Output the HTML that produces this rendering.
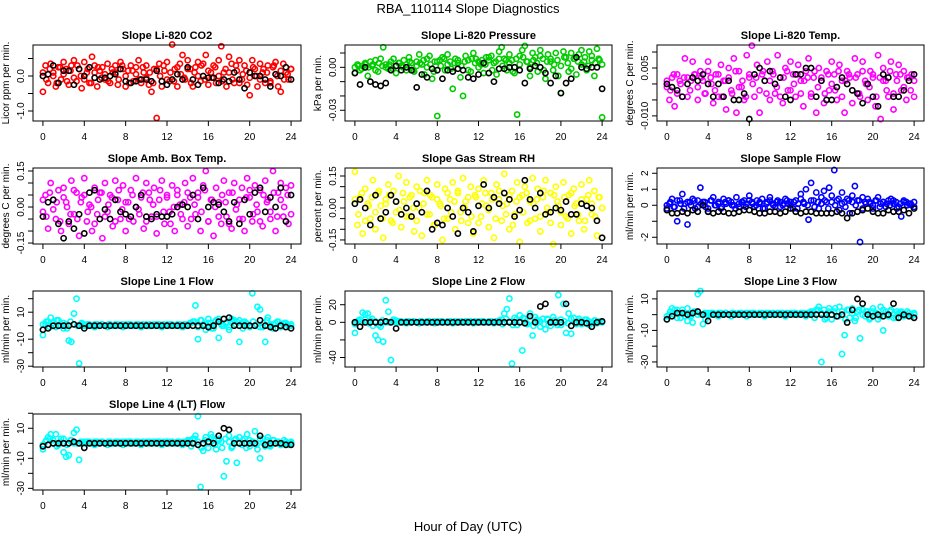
<!DOCTYPE html>
<html><head><meta charset="utf-8"><style>
html,body{margin:0;padding:0;background:#fff;}
svg{display:block;font-family:"Liberation Sans",sans-serif;}
</style></head><body>
<svg id="chart" width="936" height="540" viewBox="0 0 936 540">
<text x="468" y="13" text-anchor="middle" font-size="13">RBA_110114  Slope Diagnostics</text>
<text x="468" y="531" text-anchor="middle" font-size="13">Hour of Day (UTC)</text>
</svg>
<script>
const xTicks = [0,4,8,12,16,20,24];
const titles = ["Slope Li-820 CO2","Slope Li-820 Pressure","Slope Li-820 Temp.","Slope Amb. Box Temp.","Slope Gas Stream RH","Slope Sample Flow","Slope Line 1 Flow","Slope Line 2 Flow","Slope Line 3 Flow","Slope Line 4 (LT) Flow"];
const yTitles = ["Licor ppm per min.","kPa per min.","degrees C per min.","degrees C per min.","percent per min.","ml/min per min.","ml/min per min.","ml/min per min.","ml/min per min.","ml/min per min."];
const yTickVals = [[0.5,0,-0.5,-1],[0.01,0,-0.01,-0.02,-0.03],[0.01,0.005,0,-0.005,-0.01],[0.15,0.1,0.05,0,-0.05,-0.1,-0.15],[0.15,0.1,0.05,0,-0.05,-0.1,-0.15],[2,1,0,-1,-2],[20,10,0,-10,-20,-30],[20,0,-20,-40],[10,0,-10,-20,-30],[20,10,0,-10,-20,-30]];
const yTickLabels = [[null,"0.0",null,"-1.0"],[null,"0.00",null,null,"-0.03"],[null,"0.005",null,null,"-0.010"],["0.15",null,null,"0.00",null,null,"-0.15"],["0.15",null,null,"0.00",null,null,"-0.15"],["2","1","0",null,"-2"],[null,"10",null,"-10",null,"-30"],["20","0",null,"-40"],["10",null,"-10",null,"-30"],[null,"10",null,"-10",null,"-30"]];
const yRanges = [[-1.286,0.886],[-0.0375,0.0156],[-0.0116,0.0122],[-0.154,0.1625],[-0.169,0.1875],[-2.42,2.33],[-30.6,25.7],[-50.8,35.6],[-33.2,15],[-31.1,19.5]];
const colors = ["#ff0000","#00cc00","#ff00ff","#ff00ff","#ffff00","#0000ff","#00ffff","#00ffff","#00ffff","#00ffff"];

const co2Main = [-0.45,0.3,-0.2,0.35,0.1,-0.3,0.25,-0.1,0.4,0.2,-0.25,0.3,0.45,-0.15,0.2,-0.35,0.4,0.1,-0.2,0.55,0.3,-0.3,0.15,0.25,-0.1,0.35,-0.2,0.1,0.3,-0.25,0.4,0.2,-0.3,0.15,0.3,-0.15,0.25,0.45,-0.2,0.1,0.3,-0.25,-0.45,0.2,-1.2,0.35,-0.3,0.15,0.4,-0.15,0.9,0.2,-0.3,0.35,0.6,-0.1,0.45,0.2,-0.3,0.25,0.4,-0.15,0.35,0.6,-0.25,0.1,0.3,-0.2,0.45,0.85,0.1,-0.3,0.55,0.35,-0.2,0.15,0.45,-0.1,0.3,-0.25,-0.55,0.45,0.2,-0.3,0.35,0.1,-0.2,0.3,-0.15,0.25,0.4,-0.3,-0.45,0.35,0.1,-0.1,0.2];
const co2Band = [0.1,-0.1,0.2,0.0,-0.2,0.25,0.05,-0.15,0.15,-0.05,0.3,0.0,-0.1,0.2,-0.2,0.1,0.25,-0.05,0.05,-0.15,0.2,0.1,-0.1,0.3,0.0,-0.2,0.15,0.05,-0.1,0.25,-0.05,0.1,-0.2,0.2,0.0,0.3,-0.1,0.1,-0.15,0.25,0.05,-0.05,0.2,-0.2,0.1,0.0,0.3,-0.1,0.15,-0.05,0.25,0.0,-0.15,0.2,0.1,-0.1,0.3,-0.2,0.05,0.15,-0.05,0.25,0.0,-0.1,0.2,0.1,-0.2,0.3,0.0,0.15,-0.1,0.05,0.2];
const co2Ref = [0.0,0.05,0.3,-0.2,0.15,0.15,-0.25,0.2,0.0,0.25,-0.05,-0.1,-0.05,0.0,0.05,0.2,-0.15,-0.2,-0.15,-0.1,-0.1,-0.15,0.15,-0.15,-0.25,-0.1,0.05,-0.1,0.25,-0.1,-0.25,0.0,-0.05,-0.05,-0.2,-0.1,-0.15,0.1,-0.1,-0.35,0.1,0.0,0.0,-0.1,-0.3,0.05,0.0,0.25,-0.1];
const presMain = [-0.004,0.002,-0.002,0.001,0.003,-0.006,0.004,0.002,0.005,-0.003,0.006,0.014,0.002,-0.001,0.004,0.006,-0.004,0.003,0.001,0.005,-0.002,0.007,0.003,-0.003,0.004,0.009,0.002,-0.005,0.006,0.008,-0.008,0.004,-0.034,0.005,0.007,-0.002,0.009,0.004,-0.015,0.006,0.003,-0.007,-0.02,0.008,0.005,-0.003,0.01,0.006,0.004,0.002,-0.004,0.007,0.005,0.008,0.003,-0.005,0.011,0.014,0.006,-0.002,0.009,0.005,-0.004,-0.033,0.008,0.012,0.015,0.004,-0.006,0.01,0.007,-0.003,0.012,0.006,-0.008,0.009,0.004,-0.002,0.01,-0.006,-0.018,0.011,0.007,-0.003,0.01,0.006,-0.005,0.009,0.012,0.004,-0.002,0.011,0.008,-0.006,0.013,0.005,-0.035];
const presBand = [0,0.001,-0.001,0.002,0,0.001,-0.002,0.003,0.001,0,0.002,-0.001,0.001,0.003,0,0.002,0.004,-0.002,0.001,0.003,0.005,0,0.002,-0.003,0.004,0.001,0.006,0.002,-0.001,0.003,0.005,0.001,0.004,-0.002,0.006,0.003,0,0.005,0.002,0.007,-0.002,0.004,0.006,0.001,0.005,0.003,-0.003,0.006,0.002,0.007,0.004,0,0.005,0.003,0.008,-0.002,0.004,0.006,0.002,0.005,0.001,0.007,0.003,-0.001,0.006,0.004,0.002,0.007,0.001,0.005,0.003,0.006,0.002];
const presRef = [-0.004,-0.012,0,-0.01,-0.012,-0.013,-0.011,-0.002,0.001,-0.002,0,-0.002,-0.014,-0.005,-0.007,-0.001,-0.002,-0.008,-0.002,-0.003,-0.001,-0.002,-0.007,-0.008,-0.005,0.003,-0.004,-0.01,-0.001,-0.001,0,0,-0.002,-0.011,-0.001,0.001,0,-0.004,-0.011,-0.006,-0.018,-0.011,-0.008,0.007,0,-0.001,0,0,-0.015];
const tempMain = [-0.001,-0.005,0.002,-0.007,0.003,0.001,-0.004,0.008,0.002,-0.002,0.007,0.003,-0.005,0.004,0.001,-0.003,0.007,0.002,-0.006,0.003,-0.004,0.006,0.001,-0.008,0.005,-0.002,0.008,-0.009,0.004,-0.001,-0.005,0.009,0.002,0.012,-0.004,0.006,-0.009,0.003,0.001,0.007,-0.005,0.004,-0.003,0.009,0.002,-0.006,0.005,-0.002,0.007,0.003,-0.004,0.006,0.001,-0.007,0.004,0.008,-0.003,0.002,-0.009,0.005,0.001,-0.006,0.004,-0.002,0.007,0.003,-0.005,0.006,0.001,-0.009,0.004,0.002,-0.006,0.008,0.003,-0.004,0.007,0.001,-0.005,0.004,0.002,-0.007,0.009,-0.011,0.005,0.001,-0.004,0.007,-0.008,0.003,0.006,-0.002,0.004,-0.005,0.002,0.003,-0.004];
const tempBand = [0.001,-0.002,0.003,-0.003,0,0.002,-0.004,0.001,0.003,-0.001,0.002,-0.003,0.004,0,-0.002,0.003,-0.004,0.001,0.002,-0.003,0.004,-0.001,0.001,-0.004,0.003,0,0.002,-0.002,0.004,-0.003,0.001,0.003,-0.001,-0.004,0.002,0.004,-0.002,0,0.003,-0.003,0.001,0.002,-0.004,0.004,-0.001,0.002,-0.003,0.003,0,-0.002,0.004,-0.004,0.001,0.003,-0.002,0.002,-0.003,0.004,0,-0.001,0.003,-0.004,0.002,0.001,-0.002,0.004,-0.003,0.001,0.003,-0.001,0.002,-0.002,0.001];
const tempRef = [0,-0.001,-0.002,-0.004,0,0.002,0.001,0.003,0,-0.004,0,-0.004,0.001,-0.005,-0.005,-0.003,-0.011,0.003,0.005,0.001,0.004,0,0.002,-0.004,-0.005,0.003,0.003,0.005,0.005,-0.004,0.001,-0.005,-0.005,-0.001,0.002,0,-0.002,-0.003,-0.006,0,-0.004,-0.007,0.003,0.002,-0.004,-0.004,-0.002,0.001,0.003];
const ambMain = [-0.02,0.05,-0.09,0.1,0.03,-0.05,0.07,-0.1,0.08,0.02,-0.07,0.11,-0.03,0.06,-0.12,0.04,0.12,-0.06,0.01,-0.1,0.08,-0.03,0.06,-0.13,0.1,-0.02,0.05,-0.08,0.11,0.03,-0.05,0.09,-0.1,0.02,0.07,-0.06,0.12,-0.01,0.04,-0.09,0.1,0.06,-0.04,0.08,-0.11,0.03,0.11,-0.07,0.05,-0.02,0.09,-0.1,0.07,0.01,-0.05,0.1,-0.08,0.04,0.12,-0.03,0.06,-0.1,0.09,0.15,-0.06,0.03,-0.12,0.08,0.02,-0.07,0.11,-0.04,0.06,-0.09,0.1,0.01,-0.05,0.08,-0.1,0.12,0.04,-0.06,0.09,-0.02,0.07,-0.08,0.11,0.03,-0.05,0.15,-0.1,0.06,0.1,-0.04,0.08,-0.07,0.09];
const ambBand = [0.03,-0.04,0.06,-0.01,0.02,-0.06,0.04,0.0,-0.03,0.07,-0.05,0.02,0.05,-0.02,0.0,-0.07,0.03,0.06,-0.04,0.01,0.04,-0.06,0.07,-0.01,0.02,-0.05,0.05,0.0,-0.03,0.06,-0.06,0.03,0.01,-0.04,0.07,-0.02,0.04,-0.07,0.0,0.05,-0.03,0.02,0.06,-0.05,0.01,0.04,-0.02,0.07,-0.06,0.03,0.0,-0.04,0.05,0.02,-0.07,0.06,-0.01,0.03,-0.05,0.04,0.07,-0.03,0.01,-0.06,0.05,0.02,-0.02,0.06,-0.04,0.03,0.0,0.05,-0.03];
const ambRef = [-0.04,0.02,0.03,-0.07,-0.13,-0.06,-0.09,-0.03,-0.11,0.06,0.07,-0.05,-0.01,-0.05,0.03,-0.02,-0.03,-0.04,0.0,0.05,-0.04,-0.05,-0.03,-0.04,-0.04,-0.03,0.0,0.01,0.0,0.05,-0.05,0.08,0.0,0.02,0.01,-0.02,-0.06,0.02,-0.07,0.03,-0.03,0.06,0.08,-0.02,0.04,0.0,0.08,-0.06,0.05];
const rhMain = [0.17,-0.08,0.05,-0.12,0.09,0.02,-0.05,0.13,-0.1,0.07,0.01,-0.14,0.04,0.11,-0.06,0.08,-0.02,0.15,-0.09,0.03,0.12,-0.04,0.06,-0.11,0.1,0.0,-0.13,0.07,0.13,-0.03,0.05,-0.08,0.11,0.02,-0.15,0.09,-0.05,0.04,0.12,-0.1,0.07,-0.02,0.14,0.03,-0.07,0.1,-0.12,0.05,0.09,-0.04,0.13,0.01,-0.09,0.07,-0.14,0.11,0.04,-0.06,0.16,0.02,-0.1,0.08,-0.03,0.12,-0.16,0.06,0.1,-0.07,0.03,0.14,-0.05,0.09,-0.11,0.05,0.13,-0.02,0.07,-0.17,0.1,0.01,-0.08,0.12,-0.04,0.06,-0.12,0.09,0.02,-0.06,0.11,-0.1,0.04,0.13,-0.03,0.08,-0.13,0.05,0.0];
const rhBand = [0.04,-0.03,0.07,-0.06,0.01,0.05,-0.02,0.08,-0.05,0.02,0.06,-0.07,0.03,-0.01,0.07,-0.04,0.05,0.0,-0.06,0.08,0.02,-0.03,0.06,-0.08,0.04,0.01,-0.05,0.07,-0.02,0.03,0.08,-0.06,0.0,0.05,-0.04,0.06,-0.07,0.02,0.07,-0.01,0.04,-0.05,0.08,0.01,-0.03,0.06,-0.08,0.03,0.05,-0.02,0.07,-0.06,0.02,0.04,-0.04,0.08,0.0,-0.07,0.06,0.03,-0.02,0.05,-0.05,0.07,0.01,-0.03,0.04,-0.06,0.06,0.02,-0.04,0.05,0.0];
const rhRef = [0.02,0.04,0.0,-0.08,0.06,-0.05,-0.02,0.06,0.03,-0.03,0.0,-0.04,0.02,-0.02,0.08,-0.1,-0.07,-0.08,0.0,-0.04,-0.12,0.0,-0.02,-0.11,0.01,0.11,0.0,0.05,0.02,0.07,0.04,-0.04,-0.01,0.13,0.04,0.0,0.07,-0.03,-0.02,0.0,-0.01,0.03,-0.03,-0.03,0.02,0.01,0.0,-0.06,-0.14];
const sampMain = [-0.2,0.1,0.4,-0.1,-1.0,0.3,0.7,0.1,-1.2,0.2,0.4,-0.2,0.3,1.1,0.2,-0.1,-0.4,0.3,0.5,0.0,0.2,-0.2,0.4,0.1,0.3,0.2,0.0,0.5,-0.1,0.2,0.3,0.1,0.6,0.2,-0.1,0.3,0.1,0.4,-0.2,0.2,0.5,0.1,-0.1,0.3,0.2,0.0,0.4,0.1,0.2,-0.2,0.3,0.1,0.7,0.2,1.0,-0.9,1.4,0.3,0.8,-0.2,0.5,0.9,0.2,1.1,0.6,2.2,0.3,-0.3,0.8,0.2,0.4,-0.5,0.6,1.2,0.3,-2.3,0.5,0.2,0.4,0.1,-0.2,0.3,0.5,0.1,0.2,-0.1,0.3,0.4,0.1,0.2,-0.1,-0.7,0.3,0.2,0.1,0.0,0.2];
const sampBand = [0.0,0.2,-0.1,0.3,0.1,-0.2,0.2,0.0,0.3,-0.1,0.1,0.2,-0.2,0.3,0.0,0.1,-0.1,0.2,0.3,0.0,-0.2,0.1,0.2,-0.1,0.3,0.1,0.0,0.2,-0.2,0.1,0.3,0.0,0.2,-0.1,0.1,0.3,0.0,0.2,-0.2,0.4,0.1,0.0,0.3,-0.1,0.2,0.1,0.3,-0.2,0.2,0.0,0.4,0.1,-0.1,0.3,0.2,0.0,0.3,-0.2,0.1,0.2,0.0,0.3,-0.1,0.2,0.1,0.0,0.3,-0.2,0.1,0.2,0.0,0.1,-0.1];
const sampRef = [-0.3,-0.5,-0.5,-0.4,-0.5,-0.3,-0.4,0.0,-0.4,-0.5,-0.4,-0.4,-0.5,-0.5,-0.4,-0.3,-0.3,-0.4,-0.5,-0.5,-0.4,-0.4,-0.5,-0.4,-0.2,-0.4,-0.5,-0.4,-0.4,-0.5,-0.5,-0.5,-0.5,-0.4,-0.5,-0.8,-0.5,-0.4,-0.3,-0.2,-0.4,-0.5,-0.5,-0.3,-0.4,-0.4,-0.3,-0.5,-0.2];
const line1Main = [-7,1,3,6,2,-1,4,0,-2,1,-11,-12,9,20,-28,2,1,0,1,0,-1,1,0,1,0,-1,1,0,0,1,0,-1,1,0,1,0,0,1,-1,0,1,0,0,1,0,1,-1,0,1,0,1,0,0,1,-1,0,1,2,3,15,-10,4,1,-3,5,2,-2,4,-9,1,0,2,-3,5,4,3,-12,2,3,1,-1,24,0,14,12,-1,-12,6,1,-2,2,3,0,1,2,0,1];
const line1Band = [1,3,-1,2,4,0,2,-2,3,1,0,1,0,1,0,1,0,1,0,1,0,1,0,1,0,1,0,1,0,1,0,1,0,1,0,1,0,1,0,1,0,1,0,2,3,-1,4,1,2,-2,3,5,0,2,-1,3,1,4,-2,2,0,3,1,-1,2,4,0,1,3,-1,2,1,0];
const line1Ref = [-3,-2,0,0,0,0,1,0,-2,0,0,0,0,0,0,0,0,0,0,0,0,0,0,0,0,0,0,0,0,0,0,0,-1,0,3,5,6,0,0,0,0,0,4,0,-1,-2,0,-1,-2];
const line2Main = [-12,0,3,11,9,10,2,-4,-15,-20,-5,-22,25,12,-43,3,2,0,1,0,-1,1,0,1,0,-1,1,0,0,1,0,-1,1,0,1,0,0,1,-1,0,1,0,0,1,0,1,-1,0,1,0,1,0,0,1,-1,0,1,3,10,15,27,-47,5,-3,8,-32,4,-2,10,-15,6,2,-5,4,-8,3,-4,6,2,31,-3,21,-12,10,-13,5,-2,4,1,-1,3,-3,0,2,-1,1,0];
const line2Band = [-2,2,0,3,-1,4,1,-3,2,0,0,1,0,1,0,1,0,1,0,1,0,1,0,1,0,1,0,1,0,1,0,1,0,1,0,1,0,1,0,1,0,1,2,-2,4,1,-3,3,0,5,-1,2,-4,3,1,-2,4,0,2,-3,3,1,-1,4,0,2,-2,3,1,-1,2,0,1];
const line2Ref = [0,-5,0,0,0,0,1,0,-7,0,0,0,0,0,0,0,0,0,0,0,0,0,0,0,0,0,0,0,0,0,0,0,0,-1,7,0,18,21,0,0,0,21,-4,0,0,-1,-5,0,1];
const line3Main = [-3,0,4,3,-2,1,3,-1,-4,0,-5,2,13,15,-6,-3,1,0,1,0,-1,1,0,1,0,-1,1,0,0,1,0,-1,1,0,1,0,0,1,-1,0,1,0,0,1,0,1,-1,0,1,0,1,0,0,1,-1,0,1,2,3,5,-30,3,-2,4,-3,2,-1,5,-25,-13,3,-2,4,-4,2,-15,3,-1,2,-2,4,1,-3,5,-10,2,-1,3,0,-2,1,2,-1,0,1,-1,0];
const line3Band = [-1,2,0,3,-2,1,4,-1,2,0,0,1,0,1,0,1,0,1,0,1,0,1,0,1,0,1,0,1,0,1,0,1,0,1,0,1,0,1,0,1,0,1,2,-2,3,1,-3,2,0,4,-1,2,-3,3,1,-2,3,0,2,-3,2,1,-1,3,0,2,-2,2,1,-1,2,0,1];
const line3Ref = [-3,-1,1,1,0,1,2,0,-4,0,0,0,0,0,0,0,0,0,0,0,0,0,0,0,0,0,0,0,0,0,0,0,0,-1,0,-5,3,10,7,0,-1,0,-1,0,7,-2,0,-1,-2];
const line4Main = [-4,1,4,6,2,6,-1,3,-6,-9,-8,2,7,9,-11,0,1,0,1,0,-1,1,0,1,0,-1,1,0,0,1,0,-1,1,0,1,0,0,1,-1,0,1,0,0,1,0,1,-1,0,1,0,1,0,0,1,-1,0,1,2,3,5,18,-29,-5,4,-3,6,2,-4,3,1,-22,-12,5,-3,2,-13,4,-1,3,6,-2,1,8,-4,-10,3,-2,4,-1,2,0,1,-1,0,1,-1,0];
const line4Band = [-1,2,3,0,-2,1,3,-1,2,0,0,1,0,1,0,1,0,1,0,1,0,1,0,1,0,1,0,1,0,1,0,1,0,1,0,1,0,1,0,1,0,1,2,-2,3,1,-3,2,0,4,-1,2,-3,3,1,-2,3,0,2,-3,2,1,-1,3,0,2,-2,2,1,-1,2,0,1];
const line4Ref = [-2,-1,0,0,0,0,1,0,-3,0,0,0,0,0,0,0,0,0,0,0,0,0,0,0,0,0,0,0,0,0,-1,0,1,0,5,10,9,0,0,0,0,0,5,-1,0,0,0,-1,-1];

const mainSeries = [co2Main,presMain,tempMain,ambMain,rhMain,sampMain,line1Main,line2Main,line3Main,line4Main];
const bandSeries = [co2Band,presBand,tempBand,ambBand,rhBand,sampBand,line1Band,line2Band,line3Band,line4Band];
const refSeries = [co2Ref,presRef,tempRef,ambRef,rhRef,sampRef,line1Ref,line2Ref,line3Ref,line4Ref];

const NS = "http://www.w3.org/2000/svg";
const svg = document.getElementById("chart");
const colBox = [[33,301],[345,612],[657,924]];
const rowTop = [45,168,291,414];
const boxH = 76;
function mk(tag, attrs, parent){
  const e = document.createElementNS(NS, tag);
  for (const k in attrs) e.setAttribute(k, attrs[k]);
  parent.appendChild(e);
  return e;
}

for (let p = 0; p < titles.length; p++) {
  const col = p % 3, row = Math.floor(p / 3);
  const L = colBox[col][0], R = colBox[col][1], T = rowTop[row], B = T + boxH;
  const xs = h => L + (h + 0.96) / 25.92 * (R - L);
  const [y0, y1] = yRanges[p];
  const ys = v => B - (v - y0) / (y1 - y0) * boxH;
  const g = mk("g", {}, svg);
  
  

  const t = mk("text", {x: (L + R) / 2, y: T - 6, "text-anchor": "middle", "font-size": 11, "font-weight": "bold"}, g);
  t.textContent = titles[p];
  
  

  const yt = mk("text", {transform: `translate(${L - 24},${(T + B) / 2}) rotate(-90)`, "text-anchor": "middle", "font-size": 10}, g);
  yt.textContent = yTitles[p];
  
  

  const pts = mk("g", {fill: "none", "stroke-width": 1.6}, g);
  
  
  const mv = mainSeries[p];
  for (let i = 0; i < mv.length; i++) {
    const c = mk("circle", {cx: xs(i * 24 / (mv.length - 1)), cy: ys(mv[i]), r: 2.6, stroke: colors[p]}, pts);
    
    
  }
  const bv = bandSeries[p];
  for (let i = 0; i < bv.length; i++) {
    const c = mk("circle", {cx: xs(i * 24 / (bv.length - 1)), cy: ys(bv[i]), r: 2.6, stroke: colors[p]}, pts);
    
    
  }
  const rv = refSeries[p];
  for (let i = 0; i < rv.length; i++) {
    const c = mk("circle", {cx: xs(i * 24 / (rv.length - 1)), cy: ys(rv[i]), r: 2.6, stroke: "#000"}, pts);
    
    
  }

  const box = mk("rect", {x: L, y: T, width: R - L, height: boxH, fill: "none", stroke: "#000", "stroke-width": 1}, g);
  
  

  for (const h of xTicks) {
    const x = xs(h);
    mk("line", {x1: x, x2: x, y1: B, y2: B + 5, stroke: "#000"}, g);
    const tl = mk("text", {x: x, y: B + 19, "text-anchor": "middle", "font-size": 10}, g);
    tl.textContent = h;
    
    
  }
  const tv = yTickVals[p], tlb = yTickLabels[p];
  for (let i = 0; i < tv.length; i++) {
    const y = ys(tv[i]);
    mk("line", {x1: L - 5, x2: L, y1: y, y2: y, stroke: "#000"}, g);
    if (tlb[i] !== null) {
      const tl = mk("text", {transform: `translate(${L - 9},${y}) rotate(-90)`, "text-anchor": "middle", "font-size": 10}, g);
      tl.textContent = tlb[i];
      
      
    }
  }
}
</script>
</body></html>
